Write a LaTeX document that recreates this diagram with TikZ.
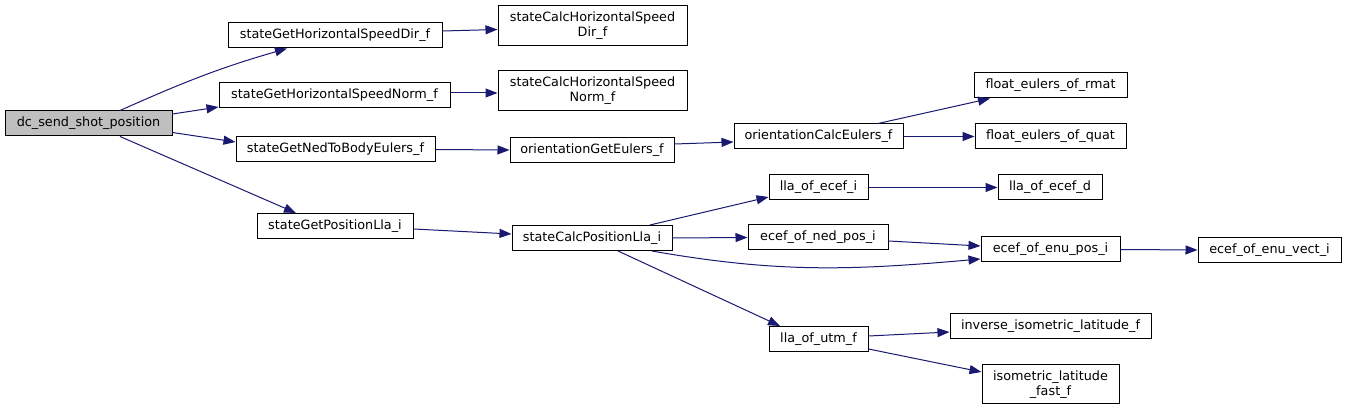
\documentclass[tikz,border=0pt]{standalone}
\usepackage{fontspec}
\setmainfont{DejaVu Sans}
\usetikzlibrary{arrows.meta}
\definecolor{edgeblue}{HTML}{191970}
\definecolor{rootgray}{HTML}{BFBFBF}
\tikzset{
  fn/.style={draw=black, line width=1pt, fill=white, inner sep=0pt, align=center,
    font=\fontsize{12.8}{15}\selectfont, minimum height=25pt},
  rootfn/.style={fn, fill=rootgray},
  call/.style={draw=edgeblue, line width=1pt, -{Triangle[length=12pt,width=9pt]}}
}
\begin{document}
\begin{tikzpicture}[x=1pt,y=1pt]
\useasboundingbox (0,0) rectangle (1347,-411);
% nodes
\node[rootfn, minimum width=167pt] (dc) at (88.5,-123.5) {dc\_send\_shot\_position};
\node[fn, minimum width=214pt] (hdir) at (335,-35.5) {stateGetHorizontalSpeedDir\_f};
\node[fn, minimum width=231pt] (hnorm) at (334.5,-95.5) {stateGetHorizontalSpeedNorm\_f};
\node[fn, minimum width=199pt] (ned) at (335.5,-149.5) {stateGetNedToBodyEulers\_f};
\node[fn, minimum width=156pt] (pos) at (335,-226) {stateGetPositionLla\_i};
\node[fn, minimum width=189pt, minimum height=40pt] (cdir) at (592.5,-26) {stateCalcHorizontalSpeed\\Dir\_f};
\node[fn, minimum width=189pt, minimum height=40pt] (cnorm) at (592.5,-91) {stateCalcHorizontalSpeed\\Norm\_f};
\node[fn, minimum width=164pt] (oge) at (592,-150) {orientationGetEulers\_f};
\node[fn, minimum width=160pt] (cpos) at (592,-238) {stateCalcPositionLla\_i};
\node[fn, minimum width=169pt] (oce) at (818.5,-136.5) {orientationCalcEulers\_f};
\node[fn, minimum width=99pt] (llai) at (818.5,-187.5) {lla\_of\_ecef\_i};
\node[fn, minimum width=140pt] (nedpos) at (818,-237.5) {ecef\_of\_ned\_pos\_i};
\node[fn, minimum width=99pt] (utm) at (818.5,-339) {lla\_of\_utm\_f};
\node[fn, minimum width=153pt] (rmat) at (1050.5,-85.5) {float\_eulers\_of\_rmat};
\node[fn, minimum width=151pt] (quat) at (1050.5,-136.5) {float\_eulers\_of\_quat};
\node[fn, minimum width=104pt] (llad) at (1050,-187.5) {lla\_of\_ecef\_d};
\node[fn, minimum width=139pt] (enu) at (1050.5,-249.5) {ecef\_of\_enu\_pos\_i};
\node[fn, minimum width=201pt] (inv) at (1050.5,-326) {inverse\_isometric\_latitude\_f};
\node[fn, minimum width=137pt, minimum height=39pt] (isof) at (1050.5,-384.5) {isometric\_latitude\\\_fast\_f};
\node[fn, minimum width=143pt] (vect) at (1269.5,-250) {ecef\_of\_enu\_vect\_i};
% connectors
\draw[call] ([xshift=31.5pt]dc.north) to[out=24,in=196] ([xshift=-48pt]hdir.south);
\draw[call] ([yshift=9.5pt]dc.east) -- ([yshift=-11.5pt]hnorm.west);
\draw[call] ([yshift=-9pt]dc.east) -- ([yshift=7.5pt]ned.west);
\draw[call] ([xshift=31.5pt]dc.south) -- ([xshift=-39pt]pos.north);
\draw[call] ([yshift=4.5pt]hdir.east) -- ([yshift=-3.5pt]cdir.west);
\draw[call] ([yshift=2.5pt]hnorm.east) -- ([yshift=-2pt]cnorm.west);
\draw[call] (ned.east) -- (oge.west);
\draw[call] ([yshift=6pt]oge.east) -- ([yshift=-5.5pt]oce.west);
\draw[call] ([xshift=59.5pt]oce.north) -- ([xshift=-60.5pt]rmat.south);
\draw[call] (oce.east) -- (quat.west);
\draw[call] ([yshift=-3pt]pos.east) -- ([yshift=4pt]cpos.west);
\draw[call] ([xshift=58pt]cpos.north) -- ([yshift=-9.5pt]llai.west);
\draw[call] (cpos.east) -- (nedpos.west);
\draw[call] ([xshift=60pt]cpos.south) to[out=-10,in=185] ([yshift=-9.5pt]enu.west);
\draw[call] ([xshift=26pt]cpos.south) -- ([xshift=-38.5pt]utm.north);
\draw[call] (llai.east) -- (llad.west);
\draw[call] ([yshift=-3.5pt]nedpos.east) -- ([yshift=3.5pt]enu.west);
\draw[call] (enu.east) -- (vect.west);
\draw[call] ([yshift=3pt]utm.east) -- ([yshift=-6pt]inv.west);
\draw[call] ([yshift=-10pt]utm.east) -- ([yshift=12.5pt]isof.west);
\end{tikzpicture}
\end{document}
